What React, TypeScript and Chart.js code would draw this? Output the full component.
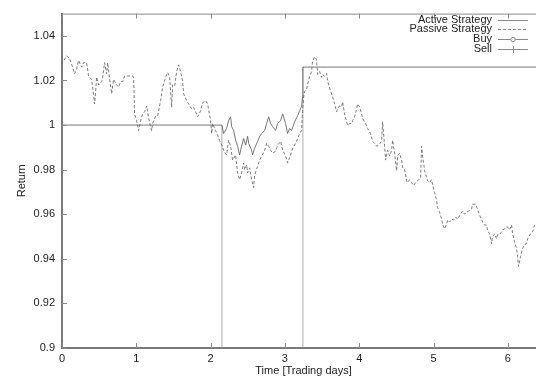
import React, { useEffect, useRef } from "react";
import { Chart, registerables } from "chart.js";

Chart.register(...registerables);

// ---- Data ----
const seriesLabels = ["Active Strategy", "Passive Strategy", "Buy", "Sell"];

const passiveTime = [
  0, 0.008, 0.062, 0.102, 0.143, 0.170, 0.196, 0.223, 0.264, 0.291,
  0.331, 0.358, 0.398, 0.412, 0.439, 0.452, 0.466, 0.493, 0.533, 0.546,
  0.573, 0.600, 0.614, 0.641, 0.668, 0.694, 0.735, 0.762, 0.789, 0.816,
  0.842, 0.883, 0.950, 0.964, 0.977, 1.004, 1.031, 1.058, 1.085,
  1.112, 1.139, 1.166, 1.206, 1.219, 1.260, 1.287, 1.327, 1.355, 1.395,
  1.422, 1.449, 1.475, 1.489, 1.516, 1.543, 1.569, 1.596, 1.623, 1.637,
  1.677, 1.704, 1.744, 1.771, 1.798, 1.825, 1.865, 1.892, 1.932, 1.959,
  2.000, 2.013, 2.027, 2.067, 2.094, 2.121, 2.152,
  2.175, 2.215, 2.242, 2.269, 2.296, 2.336, 2.363, 2.390, 2.417, 2.444,
  2.458, 2.485, 2.498, 2.525, 2.552, 2.579, 2.592, 2.633, 2.660, 2.687,
  2.727, 2.754, 2.781, 2.808, 2.835, 2.875, 2.902, 2.942, 2.969, 3.010,
  3.036, 3.077, 3.104, 3.144, 3.171, 3.198, 3.225,
  3.237, 3.252, 3.265, 3.292, 3.306, 3.332, 3.359, 3.372, 3.399, 3.426,
  3.440, 3.467, 3.494, 3.507, 3.534, 3.561, 3.575, 3.615, 3.642, 3.669,
  3.696, 3.709, 3.736, 3.763, 3.776, 3.803, 3.830, 3.844, 3.871, 3.898,
  3.911, 3.938, 3.965, 3.978, 4.005, 4.032, 4.046, 4.086, 4.113, 4.153,
  4.180, 4.207, 4.234, 4.261, 4.301, 4.315, 4.342, 4.355, 4.382, 4.409,
  4.436, 4.449, 4.476, 4.503, 4.517, 4.543, 4.570, 4.584, 4.611, 4.638,
  4.651, 4.678, 4.705, 4.732, 4.759, 4.786, 4.826, 4.839, 4.853, 4.880,
  4.907, 4.920, 4.947, 4.974, 4.987, 5.014, 5.041, 5.054, 5.081, 5.108,
  5.122, 5.149, 5.176, 5.189, 5.216, 5.243, 5.270, 5.297, 5.323, 5.364,
  5.391, 5.418, 5.444, 5.471, 5.512, 5.525, 5.565, 5.592, 5.619, 5.646,
  5.660, 5.687, 5.713, 5.727, 5.754, 5.781, 5.794, 5.821, 5.848, 5.862,
  5.889, 5.915, 5.929, 5.956, 5.983, 5.996, 6.023, 6.050, 6.064, 6.090,
  6.117, 6.131, 6.144, 6.171, 6.198, 6.225, 6.252, 6.266, 6.306, 6.333,
  6.359, 6.400,
];

const passiveReturn = [
  1.027, 1.028, 1.031, 1.030, 1.026, 1.023, 1.025, 1.029, 1.026, 1.028,
  1.028, 1.022, 1.0205, 1.017, 1.0095, 1.015, 1.0215, 1.018, 1.0195, 1.021,
  1.028, 1.023, 1.028, 1.0205, 1.014, 1.0205, 1.018, 1.017, 1.0195, 1.0195,
  1.022, 1.022, 1.022, 1.0215, 1.005, 1.002, 0.9975, 1.002, 1.005,
  1.006, 1.0086, 1.003, 0.9975, 1.0007, 1.004, 1.004, 1.011, 1.017, 1.0215,
  1.0236, 1.0215, 1.008, 1.018, 1.0175, 1.024, 1.027, 1.024, 1.0195, 1.014,
  1.011, 1.0095, 1.0073, 1.008, 1.006, 1.0037, 1.0064, 1.010, 1.011, 1.0095,
  1.002, 0.9962, 1.0007, 0.9975, 0.9955, 0.993, 0.991,
  0.9887, 0.9866, 0.9932, 0.9905, 0.9843, 0.9866, 0.9786, 0.9755, 0.9786, 0.983,
  0.980, 0.9821, 0.9786, 0.9808, 0.9755, 0.972, 0.9773, 0.9817, 0.9843, 0.9861,
  0.9887, 0.9918, 0.9905, 0.9887, 0.9874, 0.9883, 0.991, 0.9927, 0.9887, 0.9861,
  0.983, 0.9866, 0.9896, 0.9918, 0.994, 0.9962, 0.9976,
  1.006, 1.0126, 1.0152, 1.0161, 1.0183, 1.0219, 1.024, 1.0285, 1.0307, 1.0293,
  1.0227, 1.024, 1.0214, 1.0227, 1.0219, 1.0232, 1.0197, 1.0152, 1.0126, 1.0095,
  1.006, 1.0073, 1.0086, 1.0082, 1.0104, 1.005, 1.0015, 0.9998, 1.0007, 1.0007,
  1.002, 1.0037, 1.0073, 1.0095, 1.0082, 1.005, 1.0029, 1.0007, 0.9985, 0.9962,
  0.9927, 0.9918, 0.9905, 0.991, 0.9927, 1.0015, 0.9905, 0.9843, 0.9887, 0.9861,
  0.9887, 0.9932, 0.9874, 0.9795, 0.9861, 0.9874, 0.9843, 0.9808, 0.980, 0.975,
  0.9742, 0.9755, 0.9742, 0.9729, 0.9742, 0.975, 0.9764, 0.9905, 0.9861, 0.9795,
  0.9764, 0.975, 0.9742, 0.9755, 0.9733, 0.9698, 0.9662, 0.9631, 0.9609, 0.9578,
  0.9556, 0.9534, 0.9556, 0.9574, 0.9565, 0.9578, 0.9574, 0.9587, 0.9578, 0.96,
  0.9614, 0.96, 0.9609, 0.9614, 0.9623, 0.9645, 0.9645, 0.9623, 0.9596, 0.9578,
  0.9565, 0.9552, 0.9552, 0.953, 0.9512, 0.9468, 0.9499, 0.9512, 0.949, 0.9508,
  0.9508, 0.9521, 0.953, 0.9534, 0.9543, 0.9543, 0.953, 0.9552, 0.9512, 0.9477,
  0.9446, 0.9411, 0.9366, 0.9411, 0.9446, 0.9464, 0.9468, 0.949, 0.9512, 0.9521,
  0.9552, 0.956,
];

const activeTime = [
  0, 2.152, 2.175, 2.215, 2.242, 2.269, 2.283, 2.310, 2.336, 2.363,
  2.390, 2.417, 2.444, 2.471, 2.498, 2.512, 2.552, 2.565, 2.592, 2.633,
  2.660, 2.687, 2.727, 2.754, 2.781, 2.808, 2.835, 2.875, 2.902, 2.942,
  2.969, 3.010, 3.036, 3.063, 3.090, 3.131, 3.171, 3.198, 3.225, 3.237,
  3.242, 6.5,
];

const activeReturn = [
  1.0, 1.0, 0.9962, 0.9985, 1.002, 1.0037, 0.9993, 0.9976, 0.9932, 0.9905,
  0.9866, 0.9905, 0.994, 0.991, 0.995, 0.9918, 0.9887, 0.9866, 0.9896, 0.9927,
  0.995, 0.9962, 0.9976, 1.0007, 1.0037, 1.0007, 0.9993, 0.9976, 1.0007, 1.002,
  1.005, 1.0007, 0.9962, 0.9985, 0.9976, 1.0015, 1.0042, 1.0064, 1.0086, 1.0126,
  1.026, 1.026,
];

const buyTime = [2.152, 2.152];
const buyReturn = [0.9, 1.0];
const sellTime = [3.242, 3.242];
const sellReturn = [0.9, 1.026];

const xTickValues = [0, 1, 2, 3, 4, 5, 6];
const xTickLabels = ["0", "1", "2", "3", "4", "5", "6"];
const yTickValues = [0.9, 0.92, 0.94, 0.96, 0.98, 1.0, 1.02, 1.04];
const yTickLabels = ["0.9", "0.92", "0.94", "0.96", "0.98", "1", "1.02", "1.04"];

const xTitle = "Time [Trading days]";
const yTitle = "Return";

const FONT = "'Liberation Sans', Arial, Helvetica, sans-serif";

const toPoints = (xs: number[], ys: number[]) => xs.map((x, i) => ({ x, y: ys[i] }));

const framePlugin = {
  id: "gnuplotFrame",
  afterDraw(chart: any) {
    const { ctx, chartArea, scales } = chart;
    const { left, top, right, bottom } = chartArea;
    const xs = scales.x;
    const ys = scales.y;
    ctx.save();
    // top border
    ctx.strokeStyle = "#8a8a8a";
    ctx.lineWidth = 1;
    ctx.beginPath();
    ctx.moveTo(left, top + 0.5);
    ctx.lineTo(right, top + 0.5);
    ctx.stroke();
    // inward tick marks
    ctx.beginPath();
    yTickValues.forEach((v) => {
      const py = Math.round(ys.getPixelForValue(v)) + 0.5;
      ctx.moveTo(left, py);
      ctx.lineTo(left + 5, py);
    });
    xTickValues.forEach((v) => {
      const px = Math.round(xs.getPixelForValue(v)) + 0.5;
      ctx.moveTo(px, bottom);
      ctx.lineTo(px, bottom - 5);
      ctx.moveTo(px, top);
      ctx.lineTo(px, top + 5);
    });
    ctx.stroke();

    // legend (gnuplot style: right-aligned text, sample on the right)
    const textRight = 492;
    const sx0 = 498;
    const sx1 = 528;
    const sxm = (sx0 + sx1) / 2;
    ctx.font = `11px ${FONT}`;
    ctx.textAlign = "right";
    ctx.textBaseline = "middle";
    chart.data.datasets.forEach((ds: any, i: number) => {
      const ry = 19.5 + i * 9.8;
      ctx.fillStyle = "#222";
      ctx.fillText(ds.label, textRight, ry);
      ctx.strokeStyle = "#888";
      ctx.lineWidth = 1;
      ctx.setLineDash(i === 1 ? [3, 2] : []);
      ctx.beginPath();
      ctx.moveTo(sx0, Math.round(ry) + 0.5);
      ctx.lineTo(sx1, Math.round(ry) + 0.5);
      ctx.stroke();
      ctx.setLineDash([]);
      if (i === 2) {
        ctx.fillStyle = "#fff";
        ctx.beginPath();
        ctx.arc(sxm, Math.round(ry) + 0.5, 2.2, 0, Math.PI * 2);
        ctx.fill();
        ctx.stroke();
      } else if (i === 3) {
        ctx.beginPath();
        ctx.moveTo(sxm + 0.5, Math.round(ry) - 3);
        ctx.lineTo(sxm + 0.5, Math.round(ry) + 4);
        ctx.stroke();
      }
    });
    ctx.restore();
  },
};

export default function App() {
  const canvasRef = useRef<HTMLCanvasElement | null>(null);

  useEffect(() => {
    const canvas = canvasRef.current;
    if (!canvas) return;
    const chart = new Chart(canvas, {
      type: "line",
      data: {
        datasets: [
          {
            label: seriesLabels[0],
            data: toPoints(activeTime, activeReturn),
            borderColor: "#666",
            borderWidth: 0.9,
            pointRadius: 0,
            tension: 0,
          },
          {
            label: seriesLabels[1],
            data: toPoints(passiveTime, passiveReturn),
            borderColor: "#6a6a6a",
            borderWidth: 0.9,
            borderDash: [3, 2],
            pointRadius: 0,
            tension: 0,
          },
          {
            label: seriesLabels[2],
            data: toPoints(buyTime, buyReturn),
            borderColor: "#999",
            borderWidth: 0.8,
            pointRadius: 0,
            tension: 0,
          },
          {
            label: seriesLabels[3],
            data: toPoints(sellTime, sellReturn),
            borderColor: "#999",
            borderWidth: 0.8,
            pointRadius: 0,
            tension: 0,
          },
        ],
      },
      options: {
        animation: false,
        responsive: false,
        devicePixelRatio: 1,
        layout: { padding: { top: 10, left: 0, right: 0, bottom: 0 } },
        plugins: {
          legend: { display: false },
          tooltip: { enabled: false },
        },
        scales: {
          x: {
            type: "linear",
            min: 0,
            max: 6.5,
            afterFit: (scale: any) => {
              scale.height = 36;
            },
            afterBuildTicks: (scale: any) => {
              scale.ticks = xTickValues.map((v) => ({ value: v }));
            },
            ticks: {
              callback: (v: any) => {
                const idx = xTickValues.indexOf(Number(v));
                return idx >= 0 ? xTickLabels[idx] : "";
              },
              color: "#222",
              font: { family: FONT, size: 11 },
              padding: 4,
              maxRotation: 0,
              autoSkip: false,
            },
            grid: { display: false, drawTicks: false },
            border: { display: true, color: "#7a7a7a", width: 2 },
            title: {
              display: true,
              text: xTitle,
              color: "#222",
              font: { family: FONT, size: 11 },
              padding: { top: 0, bottom: 6.4 },
            },
          },
          y: {
            type: "linear",
            min: 0.9,
            max: 1.05,
            afterFit: (scale: any) => {
              scale.width = 62;
            },
            afterBuildTicks: (scale: any) => {
              scale.ticks = yTickValues.map((v) => ({ value: v }));
            },
            ticks: {
              callback: (v: any) => {
                const idx = yTickValues.findIndex((t) => Math.abs(t - Number(v)) < 1e-9);
                return idx >= 0 ? yTickLabels[idx] : "";
              },
              color: "#222",
              font: { family: FONT, size: 11 },
              padding: 7,
              autoSkip: false,
            },
            grid: { display: false, drawTicks: false },
            border: { display: true, color: "#7a7a7a", width: 2 },
            title: {
              display: true,
              text: yTitle,
              color: "#222",
              font: { family: FONT, size: 11 },
              padding: { top: 15.4, bottom: 0 },
            },
          },
        },
      },
      plugins: [framePlugin],
    });
    return () => chart.destroy();
  }, []);

  return (
    <div
      style={{
        position: "absolute",
        left: 0,
        top: 0,
        width: 536,
        height: 384,
        overflow: "hidden",
        background: "#fff",
      }}
    >
      <canvas
        ref={canvasRef}
        width={545}
        height={384}
        style={{ display: "block", width: 545, height: 384 }}
      />
    </div>
  );
}
